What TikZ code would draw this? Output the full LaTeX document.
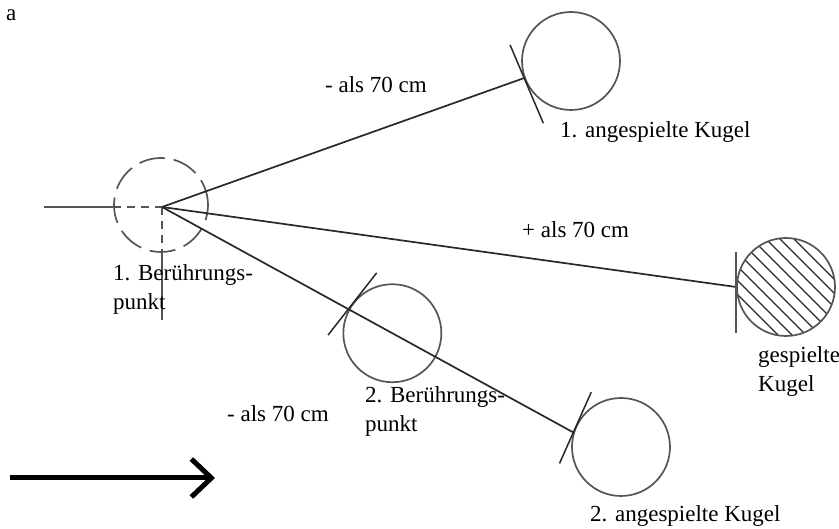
\documentclass[tikz,border=0pt]{standalone}
\usepackage{fontspec}
\setmainfont{Liberation Serif}
\usetikzlibrary{positioning,arrows.meta}
\usepackage{xcolor}
\definecolor{linie}{RGB}{40,40,40}
\definecolor{kreis}{RGB}{85,85,85}
\tikzset{
  etikett/.style={font=\fontsize{23}{29}\selectfont, inner sep=0pt, align=left, anchor=base west},
  kugel/.style={circle, draw=kreis, line width=1.7pt, minimum size=98pt, inner sep=0pt},
  bpkreis/.style={circle, draw=kreis, line width=1.7pt, dash pattern=on 26pt off 9pt, minimum size=94pt, inner sep=0pt},
  schraffur/.style={path picture={\foreach \c in {-84,-70,...,84}{\draw[linie, line width=1.3pt] (path picture bounding box.center) ++(\c/2-70,\c/2+70) -- ++(140,-140);}}},
  stoss/.style={draw=linie, line width=1.7pt},
  tangente/.style={draw=linie, line width=1.5pt},
  hilfslinie/.style={draw=kreis, line width=1.7pt, dash pattern=on 8pt off 6pt},
  richtung/.style={draw=black, line width=5pt, -{Straight Barb[length=20pt, width=38pt]}}
}
\begin{document}
\begin{tikzpicture}[x=1pt, y=1pt]
\useasboundingbox (0,0) rectangle (839,529);
% Baelle
\node[bpkreis] (bp1kreis) at (161,324) {};
\node[kugel] (kugel1) at (571,468) {};
\node[kugel, schraffur] (gespielt) at (786,242) {};
\node[kugel] (kugel2) at (621,82) {};
\coordinate (bp1) at (162,322);
\path (bp1) -- (kugel2.163) node[kugel, pos=0.56] (bp2kreis) {} coordinate[pos=0.453] (bp2);
% Hilfslinien am 1. Beruehrungspunkt
\coordinate (anlauf) at (44,322);
\coordinate (kreisL) at (113,322);
\coordinate (lot) at (162,279);
\coordinate (lotEnde) at (162,209);
\draw[stoss, draw=kreis] (anlauf) -- (kreisL);
\draw[hilfslinie] (kreisL) -- (bp1);
\draw[hilfslinie] (bp1) -- (lot);
\draw[stoss, draw=kreis] (lot) -- (lotEnde);
% Stosslinien
\foreach \ziel in {kugel1.200,gespielt.west,kugel2.163}{\draw[stoss] (bp1) -- (\ziel);}
% Tangenten
\draw[tangente] ([shift={(113:36)}]kugel1.200) -- ([shift={(-67:49)}]kugel1.200);
\draw[tangente, draw=kreis] ([shift={(90:35)}]gespielt.west) -- ([shift={(-90:46)}]gespielt.west);
\draw[tangente] ([shift={(66:44)}]kugel2.163) -- ([shift={(246:34)}]kugel2.163);
\draw[tangente] ([shift={(52:46)}]bp2) -- ([shift={(232:33)}]bp2);
% Pfeil
\coordinate (pfeilA) at (10,51);
\coordinate (pfeilB) at (215,51);
\draw[richtung] (pfeilA) -- (pfeilB);
% Beschriftung
\node[etikett] (abb) at (6,508) {a};
\node[etikett] (weg1) at (325,436) {- als 70 cm};
\node[etikett] (txtkugel1) at (560,391) {1. angespielte Kugel};
\node[etikett] (weg2) at (522,291) {+ als 70 cm};
\node[etikett] (txtgespielt) at (758,137) {gespielte\\Kugel};
\node[etikett] (txtbp1) at (113,219) {1. Berührungs-\\punkt};
\node[etikett] (txtbp2) at (365,97) {2. Berührungs-\\punkt};
\node[etikett] (weg3) at (227,107) {- als 70 cm};
\node[etikett] (txtkugel2) at (590,7) {2. angespielte Kugel};
\end{tikzpicture}
\end{document}
